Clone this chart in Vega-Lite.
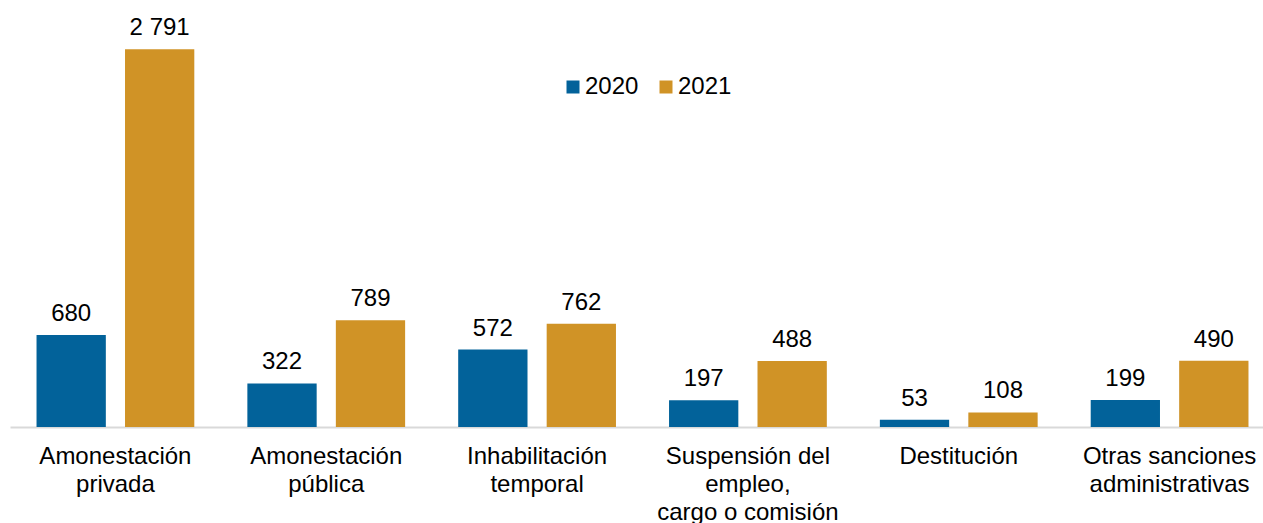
{
  "$schema": "https://vega.github.io/schema/vega-lite/v6.json",
  "autosize": {"type": "none"},
  "width": 1253,
  "height": 427,
  "padding": {"left": 10, "top": 0, "right": 0, "bottom": 96},
  "background": "white",
  "config": {
    "view": {"stroke": null},
    "font": "Liberation Sans",
    "text": {"font": "Liberation Sans"},
    "locale": {"number": {"decimal": ",", "thousands": " ", "grouping": [3], "currency": ["", ""]}}
  },
  "data": {
    "values": [
      {"categoria": "Amonestación|privada", "orden": 1, "anio": "2020", "valor": 680},
      {"categoria": "Amonestación|privada", "orden": 1, "anio": "2021", "valor": 2791},
      {"categoria": "Amonestación|pública", "orden": 2, "anio": "2020", "valor": 322},
      {"categoria": "Amonestación|pública", "orden": 2, "anio": "2021", "valor": 789},
      {"categoria": "Inhabilitación|temporal", "orden": 3, "anio": "2020", "valor": 572},
      {"categoria": "Inhabilitación|temporal", "orden": 3, "anio": "2021", "valor": 762},
      {"categoria": "Suspensión del|empleo,|cargo o comisión", "orden": 4, "anio": "2020", "valor": 197},
      {"categoria": "Suspensión del|empleo,|cargo o comisión", "orden": 4, "anio": "2021", "valor": 488},
      {"categoria": "Destitución", "orden": 5, "anio": "2020", "valor": 53},
      {"categoria": "Destitución", "orden": 5, "anio": "2021", "valor": 108},
      {"categoria": "Otras sanciones|administrativas", "orden": 6, "anio": "2020", "valor": 199},
      {"categoria": "Otras sanciones|administrativas", "orden": 6, "anio": "2021", "valor": 490}
    ]
  },
  "encoding": {
    "x": {
      "field": "categoria",
      "type": "nominal",
      "sort": {"field": "orden"},
      "scale": {"paddingInner": 0, "paddingOuter": 0, "range": [0, 1265]},
      "axis": {
        "title": null,
        "labelAngle": 0,
        "labelExpr": "split(datum.label, '|')",
        "labelFont": "Liberation Sans",
        "labelFontSize": 24,
        "labelColor": "#000000",
        "labelLineHeight": 28,
        "labelPadding": 17,
        "labelLimit": 400,
        "ticks": false,
        "tickSize": 0,
        "domainColor": "#D9D9D9",
        "domainWidth": 2,
        "labelBaseline": "top"
      }
    },
    "xOffset": {
      "field": "anio",
      "type": "nominal",
      "scale": {"paddingInner": 0.217, "paddingOuter": 0.3}
    },
    "y": {
      "field": "valor",
      "type": "quantitative",
      "scale": {"domain": [0, 3155], "nice": false},
      "axis": null
    }
  },
  "layer": [
    {
      "mark": {"type": "bar", "color": "#000000", "opacity": 0.12, "xOffset": 5, "yOffset": 2, "cornerRadius": 1}
    },
    {
      "mark": {"type": "bar"},
      "encoding": {
        "color": {
          "field": "anio",
          "type": "nominal",
          "scale": {"domain": ["2020", "2021"], "range": ["#02629A", "#D09326"]},
          "legend": {
            "title": null,
            "orient": "none",
            "direction": "horizontal",
            "legendX": 551,
            "legendY": 75,
            "symbolType": "square",
            "symbolSize": 169,
            "symbolStrokeWidth": 0,
            "labelFont": "Liberation Sans",
            "labelFontSize": 24,
            "labelColor": "#000000",
            "labelOffset": 0,
            "columnPadding": 15
          }
        }
      }
    },
    {
      "mark": {"type": "text", "baseline": "alphabetic", "dy": -14, "fontSize": 24, "color": "#000000", "font": "Liberation Sans"},
      "encoding": {
        "text": {"field": "valor", "type": "quantitative", "format": ",d", "formatType": "number"}
      }
    }
  ]
}
